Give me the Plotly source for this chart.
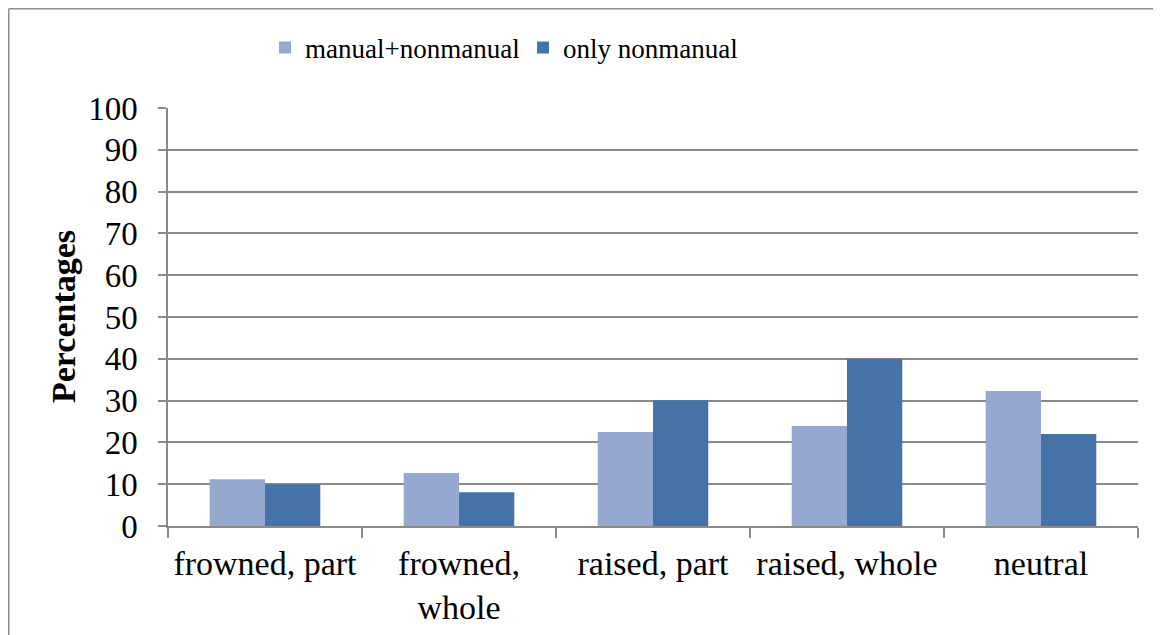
import plotly.graph_objects as go

categories = ["frowned, part", "frowned,<br>whole", "raised, part", "raised, whole", "neutral"]
manual_nonmanual = [11.2, 12.7, 22.5, 23.9, 32.3]
only_nonmanual = [10.0, 8.1, 30.1, 40.0, 22.0]
series_names = ["manual+nonmanual", "only nonmanual"]
y_ticks = list(range(0, 101, 10))

FONT = "Liberation Serif"
GRID = "#8a8a8a"

# page body has an 8px margin, so the figure is sized/placed to compensate
W, H = 1153, 627
ML, MR, MT, MB = 160, 23, 100, 109
PW, PH = W - ML - MR, H - MT - MB

fig = go.Figure()
fig.add_trace(go.Bar(x=categories, y=manual_nonmanual, name=series_names[0],
                     marker=dict(color="#95A9D0", line=dict(width=0))))
fig.add_trace(go.Bar(x=categories, y=only_nonmanual, name=series_names[1],
                     marker=dict(color="#4573A7", line=dict(width=0))))

fig.update_layout(
    width=W, height=H,
    margin=dict(l=ML, r=MR, t=MT, b=MB, autoexpand=False),
    paper_bgcolor="white", plot_bgcolor="white",
    barmode="group", bargap=0.43, bargroupgap=0,
    font=dict(family=FONT, size=33, color="black"),
    legend=dict(orientation="h", x=0.1, xanchor="left", y=1.1435, yanchor="middle",
                font=dict(family=FONT, size=27), entrywidth=213, traceorder="normal",
                itemwidth=30, bgcolor="rgba(0,0,0,0)"),
    showlegend=True,
)
fig.update_xaxes(
    showline=True, linecolor=GRID, linewidth=1.5,
    ticks="outside", tickson="boundaries", ticklen=10, tickcolor=GRID, tickwidth=1.5,
    showgrid=False, tickangle=0, tickfont=dict(family=FONT, size=34),
    ticklabelstandoff=6,
)
fig.update_yaxes(
    range=[0, 100], tickvals=y_ticks, showline=True, linecolor=GRID, linewidth=1.5,
    ticks="outside", ticklen=8, tickcolor=GRID, tickwidth=1.5,
    showgrid=True, gridcolor=GRID, gridwidth=1.5, zeroline=False,
    tickfont=dict(family=FONT, size=33), ticklabelstandoff=14,
)
fig.add_annotation(text="<b>Percentages</b>", xref="paper", yref="paper",
                   x=(55 - ML) / PW, y=0.5, xanchor="center", yanchor="middle",
                   textangle=-90, showarrow=False, font=dict(family=FONT, size=34))
# outer chart border (top and left edges visible)
border_top = 1 + (MT - 0.75) / PH
border_left = -(ML - 0.75) / PW
fig.add_shape(type="line", xref="paper", yref="paper",
              x0=border_left, x1=1.2, y0=border_top, y1=border_top,
              line=dict(color="#8c8c8c", width=1.5))
fig.add_shape(type="line", xref="paper", yref="paper",
              x0=border_left, x1=border_left, y0=-0.5, y1=border_top,
              line=dict(color="#8c8c8c", width=1.5))

fig.write_html("out.html")
